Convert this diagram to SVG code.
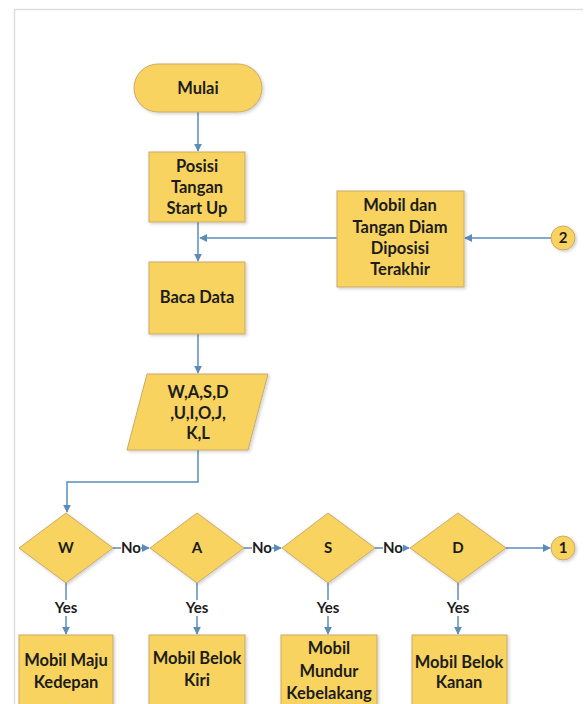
<svg xmlns="http://www.w3.org/2000/svg" width="587" height="704" viewBox="0 0 587 704">
<defs>
<marker id="arr" viewBox="0 0 10 10" refX="9" refY="5" markerWidth="8" markerHeight="8" markerUnits="userSpaceOnUse" orient="auto">
<path d="M0,0 L10,5 L0,10 z" fill="#5b8db8"/>
</marker>
<filter id="sh" x="-10%" y="-10%" width="130%" height="130%">
<feDropShadow dx="1.5" dy="1.5" stdDeviation="1.5" flood-color="#000" flood-opacity="0.18"/>
</filter>
</defs>
<style>
.n{fill:#f8d35f;stroke:#c9aa6a;stroke-width:1;filter:url(#sh)}
.t{font-family:Lato,"Open Sans","Liberation Sans",sans-serif;font-weight:700;font-size:16.5px;fill:#1c1c1c;text-anchor:middle}
.s{font-size:15px}
.c{stroke:#5b8db8;stroke-width:1.5;fill:none}
.bg{fill:#fff}
</style>
<rect width="587" height="704" fill="#fff"/>
<path d="M14.5,704 V9.5 H583" fill="none" stroke="#dedede" stroke-width="1.5"/>

<g id="connectors">
<path class="c" d="M198,112 V151" marker-end="url(#arr)"/>
<path class="c" d="M198,222 V261" marker-end="url(#arr)"/>
<path class="c" d="M337,238 H200" marker-end="url(#arr)"/>
<path class="c" d="M551,238 H465" marker-end="url(#arr)"/>
<path class="c" d="M198,334 V373" marker-end="url(#arr)"/>
<path class="c" d="M198,450 V482 H67 V512" marker-end="url(#arr)"/>
<path class="c" d="M113,548 H149" marker-end="url(#arr)"/>
<path class="c" d="M244,548 H281" marker-end="url(#arr)"/>
<path class="c" d="M375,548 H409" marker-end="url(#arr)"/>
<path class="c" d="M506,548 H550" marker-end="url(#arr)"/>
<path class="c" d="M66,583 V634" marker-end="url(#arr)"/>
<path class="c" d="M197,583 V634" marker-end="url(#arr)"/>
<path class="c" d="M328,583 V634" marker-end="url(#arr)"/>
<path class="c" d="M458,583 V634" marker-end="url(#arr)"/>
<rect class="bg" x="121" y="540" width="20" height="16"/>
<text class="t s" x="131" y="553">No</text>
<rect class="bg" x="252" y="540" width="20" height="16"/>
<text class="t s" x="262" y="553">No</text>
<rect class="bg" x="383" y="540" width="20" height="16"/>
<text class="t s" x="393" y="553">No</text>
<rect class="bg" x="52" y="600" width="28" height="16"/>
<text class="t s" x="66" y="613">Yes</text>
<rect class="bg" x="183" y="600" width="28" height="16"/>
<text class="t s" x="197" y="613">Yes</text>
<rect class="bg" x="314" y="600" width="28" height="16"/>
<text class="t s" x="328" y="613">Yes</text>
<rect class="bg" x="444" y="600" width="28" height="16"/>
<text class="t s" x="458" y="613">Yes</text>
</g>

<g id="mulai">
<rect class="n" x="134" y="64" width="128" height="48" rx="24"/>
<text class="t" x="198" y="94">Mulai</text>
</g>
<g id="posisi">
<rect class="n" x="149" y="152" width="96" height="70"/>
<text class="t" x="197" y="172">Posisi</text>
<text class="t" x="197" y="193">Tangan</text>
<text class="t" x="197" y="214">Start Up</text>
</g>
<g id="mobil-diam">
<rect class="n" x="337" y="191" width="127" height="96"/>
<text class="t" x="400" y="211">Mobil dan</text>
<text class="t" x="400" y="233">Tangan Diam</text>
<text class="t" x="400" y="254">Diposisi</text>
<text class="t" x="400" y="275">Terakhir</text>
</g>
<g id="c2">
<circle class="n" cx="563" cy="238" r="12"/>
<text class="t s" x="563" y="243">2</text>
</g>
<g id="baca">
<rect class="n" x="149" y="262" width="96" height="72"/>
<text class="t" x="197" y="303">Baca Data</text>
</g>
<g id="input">
<polygon class="n" points="147,374 268,374 248,450 127,450"/>
<text class="t" x="198" y="398">W,A,S,D</text>
<text class="t" x="198" y="419">,U,I,O,J,</text>
<text class="t" x="198" y="439">K,L</text>
</g>
<g id="dW">
<polygon class="n" points="19,548 66,513 113,548 66,583"/>
<text class="t s" x="66" y="553">W</text>
</g>
<g id="dA">
<polygon class="n" points="150,548 197,513 244,548 197,583"/>
<text class="t s" x="197" y="553">A</text>
</g>
<g id="dS">
<polygon class="n" points="282,548 328,513 375,548 328,583"/>
<text class="t s" x="328" y="553">S</text>
</g>
<g id="dD">
<polygon class="n" points="410,548 458,513 506,548 458,583"/>
<text class="t s" x="458" y="553">D</text>
</g>
<g id="c1">
<circle class="n" cx="563" cy="548" r="12"/>
<text class="t s" x="563" y="553">1</text>
</g>
<g id="maju">
<rect class="n" x="19" y="635" width="94" height="80"/>
<text class="t" x="66" y="666">Mobil Maju</text>
<text class="t" x="66" y="688">Kedepan</text>
</g>
<g id="kiri">
<rect class="n" x="149" y="635" width="96" height="80"/>
<text class="t" x="197" y="664">Mobil Belok</text>
<text class="t" x="197" y="686">Kiri</text>
</g>
<g id="mundur">
<rect class="n" x="281" y="635" width="96" height="80"/>
<text class="t" x="329" y="654">Mobil</text>
<text class="t" x="329" y="677">Mundur</text>
<text class="t" x="329" y="699">Kebelakang</text>
</g>
<g id="kanan">
<rect class="n" x="412" y="635" width="95" height="80"/>
<text class="t" x="459" y="668">Mobil Belok</text>
<text class="t" x="459" y="688">Kanan</text>
</g>
</svg>
